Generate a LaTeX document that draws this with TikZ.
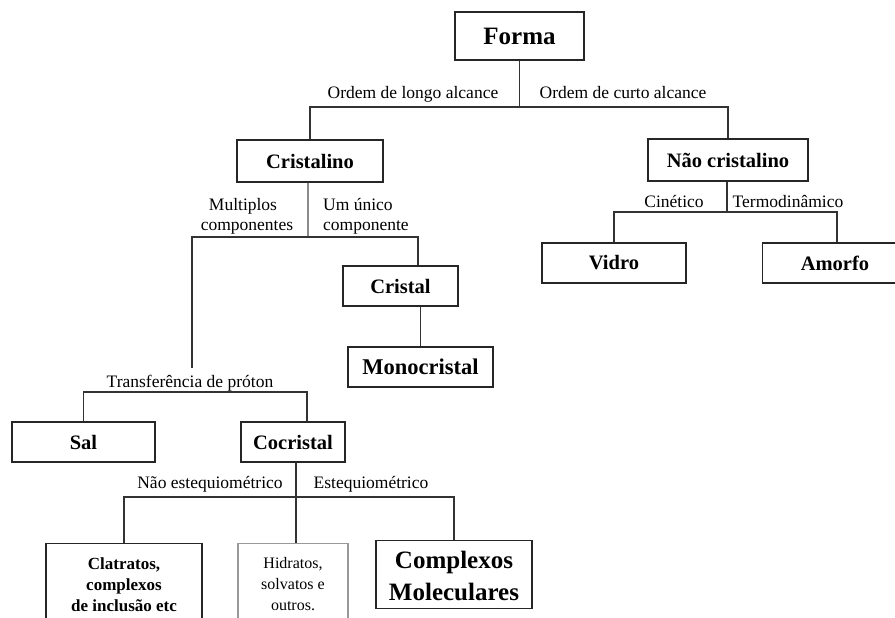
\documentclass[tikz,border=0pt]{standalone}
\usepackage{fontspec}
\setmainfont{Liberation Serif}
\begin{document}
\begin{tikzpicture}[x=1pt,y=-1pt,
  box/.style={draw=black!85,line width=1.3pt,inner sep=0pt},
  graybox/.style={draw=black!40,line width=1.1pt,inner sep=0pt},
  conn/.style={draw=black!80,line width=1.1pt},
  lab/.style={font=\fontsize{17.5}{20}\selectfont,inner sep=0pt,anchor=base},
  bt/.style={font=\fontsize{20.5}{24}\selectfont\bfseries,inner sep=0pt},
]
\useasboundingbox (0,0) rectangle (895,618);
\fill[white] (0,0) rectangle (895,618);

% boxes
\node[box,minimum width=129pt,minimum height=48pt,font=\fontsize{25}{30}\selectfont\bfseries] (forma) at (519.5,36) {Forma};
\node[box,minimum width=146pt,minimum height=42pt,bt] (crist) at (310,161) {Cristalino};
\node[box,minimum width=160pt,minimum height=42pt,bt] (naocr) at (728,160) {Não cristalino};
\node[box,minimum width=144pt,minimum height=40pt,bt] (vidro) at (614,263) {Vidro};
\node[box,minimum width=150pt,minimum height=40pt,anchor=west] (amorfo) at (762,263) {};
\node[bt] (amorfot) at (835,263) {Amorfo};
\node[box,minimum width=115pt,minimum height=40pt,bt] (cristal) at (400.5,286) {Cristal};
\node[box,minimum width=145pt,minimum height=40pt,bt,font=\fontsize{22.5}{26}\selectfont\bfseries] (mono) at (420.5,367) {Monocristal};
\node[box,minimum width=143pt,minimum height=40pt,bt] (sal) at (83.5,442) {Sal};
\node[box,minimum width=104pt,minimum height=40pt,bt] (cocr) at (293,442) {Cocristal};
\node[box,minimum width=156pt,minimum height=90pt,anchor=north] (clat) at (124,543) {};
\node[graybox,minimum width=110pt,minimum height=90pt,anchor=north] (hidr) at (293,543) {};
\node[box,minimum width=156pt,minimum height=68pt,anchor=north] (compl) at (454,539.5) {};

% box texts
\node[font=\fontsize{17}{20}\selectfont\bfseries,inner sep=0pt,anchor=base] (clat1) at (124,569) {Clatratos,};
\node[font=\fontsize{17}{20}\selectfont\bfseries,inner sep=0pt,anchor=base] (clat2) at (124,590) {complexos};
\node[font=\fontsize{17}{20}\selectfont\bfseries,inner sep=0pt,anchor=base] (clat3) at (124,611) {de inclusão etc};
\node[font=\fontsize{16}{20}\selectfont,inner sep=0pt,anchor=base] (hidr1) at (293,568) {Hidratos,};
\node[font=\fontsize{16}{20}\selectfont,inner sep=0pt,anchor=base] (hidr2) at (293,589) {solvatos e};
\node[font=\fontsize{16}{20}\selectfont,inner sep=0pt,anchor=base] (hidr3) at (293,610) {outros.};
\node[font=\fontsize{25}{30}\selectfont\bfseries,inner sep=0pt,anchor=base] (compl1) at (454,568) {Complexos};
\node[font=\fontsize{25}{30}\selectfont\bfseries,inner sep=0pt,anchor=base] (compl2) at (454,600) {Moleculares};

% labels
\node[lab] (l1) at (413,99) {Ordem de longo alcance};
\node[lab] (l2) at (623,99) {Ordem de curto alcance};
\node[lab] (l3) at (674,207) {Cinético};
\node[lab] (l4) at (788,207) {Termodinâmico};
\node[lab] (l5) at (243,210) {Multiplos};
\node[lab] (l6) at (247,230) {componentes};
\node[lab,anchor=base west] (l7) at (323,210) {Um único};
\node[lab,anchor=base west] (l8) at (323,230) {componente};
\node[lab] (l9) at (190,387) {Transferência de próton};
\node[lab] (l10) at (210,488) {Não estequiométrico};
\node[lab] (l11) at (371,488) {Estequiométrico};

% connectors
\coordinate (b1) at (519.5,107);
\draw[conn] (forma.south) -- (b1);
\draw[conn] (crist.north) -- (crist.north |- b1) -- (naocr.north |- b1) -- (naocr.north);

\coordinate (b2) at (727,212);
\draw[conn] (naocr.south -| b2) -- (b2);
\coordinate (b2r) at (837,212);
\draw[conn] (vidro.north) -- (vidro.north |- b2) -- (b2r) -- (b2r |- amorfo.north);

\coordinate (b3) at (308,237);
\coordinate (b3l) at (192,237);
\coordinate (b3r) at (418,237);
\coordinate (b3e) at (192,368);
\draw[conn,draw=black!45] (crist.south -| b3) -- (b3);
\draw[conn] (b3e) -- (b3l) -- (b3r) -- (b3r |- cristal.north);
\draw[conn] (mono.north) -- (mono.north |- cristal.south);

\coordinate (b4l) at (83.5,392);
\coordinate (b4r) at (307,392);
\draw[conn] (sal.north) -- (b4l) -- (b4r) -- (b4r |- cocr.north);

\coordinate (b5) at (296,497);
\draw[conn] (cocr.south -| b5) -- (b5);
\draw[conn] (clat.north) -- (clat.north |- b5) -- (compl.north |- b5) -- (compl.north);
\draw[conn] (b5) -- (b5 |- hidr.north);
\end{tikzpicture}
\end{document}
